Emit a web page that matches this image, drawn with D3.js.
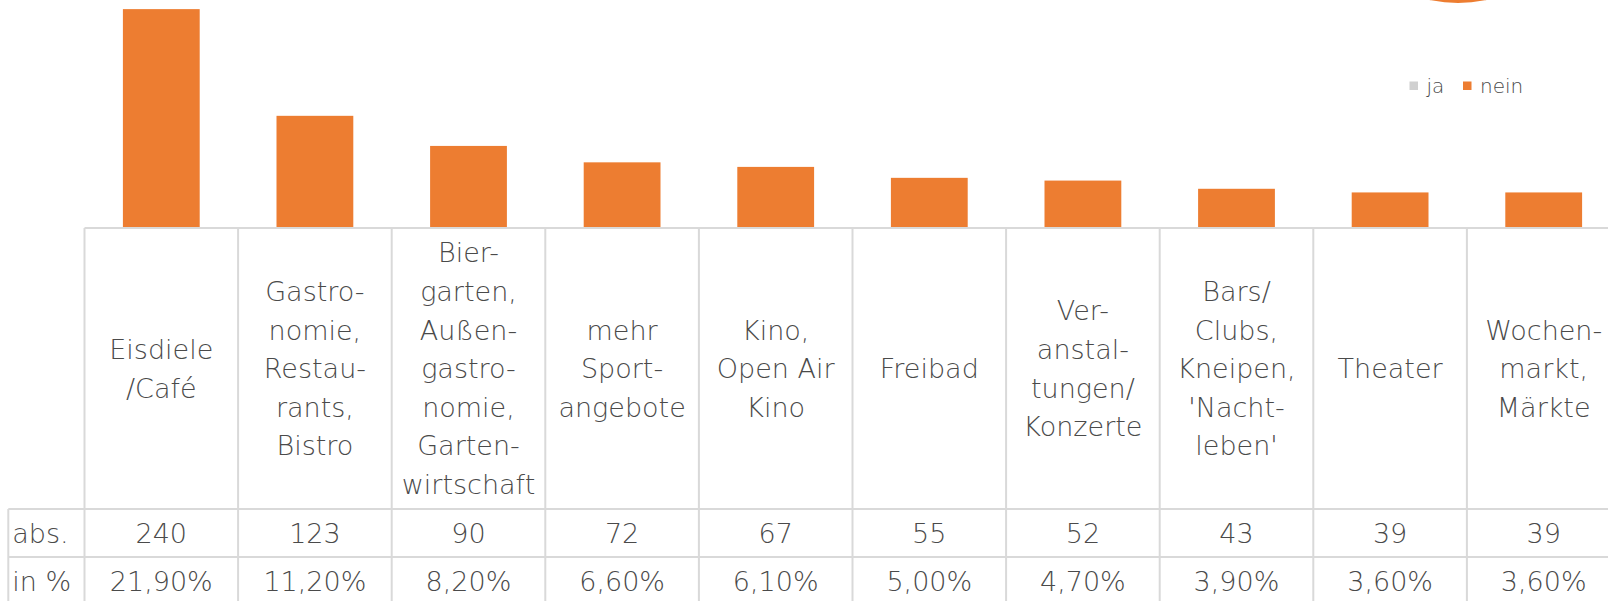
<!DOCTYPE html>
<html><head><meta charset="utf-8">
<script src="https://cdn.jsdelivr.net/npm/d3@7"></script>
<style>
html,body{margin:0;padding:0;background:#fff;overflow:hidden}
svg{display:block}
text{font-family:"DejaVu Sans","Open Sans",sans-serif;font-weight:200;fill:#4a4a4a}
</style></head><body>
<svg id="c" width="1608" height="601"></svg>
<script>
const categories = [
  ["Eisdiele","/Café"],
  ["Gastro-","nomie,","Restau-","rants,","Bistro"],
  ["Bier-","garten,","Außen-","gastro-","nomie,","Garten-","wirtschaft"],
  ["mehr","Sport-","angebote"],
  ["Kino,","Open Air","Kino"],
  ["Freibad"],
  ["Ver-","anstal-","tungen/","Konzerte"],
  ["Bars/","Clubs,","Kneipen,","'Nacht-","leben'"],
  ["Theater"],
  ["Wochen-","markt,","Märkte"]
];
const absValues = [240,123,90,72,67,55,52,43,39,39];
const pctLabels = ["21,90%","11,20%","8,20%","6,60%","6,10%","5,00%","4,70%","3,90%","3,60%","3,60%"];
const rowLabels = ["abs.","in %"];
const legendItems = [{name:"ja",color:"#d0d0d0"},{name:"nein",color:"#ed7d31"}];

const svg = d3.select("#c");
const W = 1608, H = 601;
const tableTop = 228, headerBottom = 509, row2Top = 557, rowH = 48;
const labelLeft = 8.3, plotLeft = 84.5, band = 153.6;
const keys = categories.map((c,i)=>"c"+i);

const x = d3.scaleBand().domain(keys).range([plotLeft, plotLeft + band*keys.length]).paddingInner(0).paddingOuter(0);
const y = d3.scaleLinear().domain([0,250]).range([tableTop, 0]);

// partial shape at top right
svg.append("circle").attr("cx",1458).attr("cy",-134.5).attr("r",137.5).attr("fill","#ed7d31");

// bars
const bw = x.bandwidth()*0.5;
svg.append("g").selectAll("rect").data(absValues).join("rect")
  .attr("x",(d,i)=>x(keys[i]) + (x.bandwidth()-bw)/2)
  .attr("y",d=>y(d))
  .attr("width",bw)
  .attr("height",d=>y(0)-y(d))
  .attr("fill","#ed7d31");

// table grid
const grid = svg.append("g").attr("stroke","#d9d9d9").attr("stroke-width",2).attr("fill","none");
const right = x.range()[1];
grid.append("line").attr("x1",plotLeft).attr("x2",right).attr("y1",tableTop).attr("y2",tableTop);
grid.append("line").attr("x1",labelLeft).attr("x2",right).attr("y1",headerBottom).attr("y2",headerBottom);
grid.append("line").attr("x1",labelLeft).attr("x2",right).attr("y1",row2Top).attr("y2",row2Top);
grid.append("line").attr("x1",labelLeft).attr("x2",labelLeft).attr("y1",headerBottom).attr("y2",H+10);
keys.concat(["end"]).forEach((k,i)=>{
  const xx = i<keys.length ? x(k) : right;
  grid.append("line").attr("x1",xx).attr("x2",xx).attr("y1",tableTop).attr("y2",H+10);
});

// header labels
const fs = 27, lh = 38.6;
const hdr = svg.append("g").attr("font-size",fs).attr("text-anchor","middle");
categories.forEach((lines,i)=>{
  const cx = x(keys[i]) + x.bandwidth()/2;
  const mid = (tableTop+headerBottom)/2;
  const firstBase = mid - (lines.length-1)*lh/2 + fs*0.36;
  const t = hdr.append("text").attr("x",cx).attr("y",firstBase);
  lines.forEach((ln,j)=>{
    t.append("tspan").attr("x",cx).attr("y",firstBase + j*lh).text(ln);
  });
});

// rows
const rows = svg.append("g").attr("font-size",fs);
[absValues.map(String), pctLabels].forEach((vals,r)=>{
  const base = headerBottom + r*rowH + rowH/2 + fs*0.36;
  rows.append("text").attr("x",labelLeft+4).attr("y",base).text(rowLabels[r]);
  vals.forEach((v,i)=>{
    rows.append("text").attr("x",x(keys[i])+x.bandwidth()/2).attr("y",base).attr("text-anchor","middle").text(v);
  });
});

// legend
const lg = svg.append("g").attr("font-size",20);
const lx = [1409.5, 1463];
legendItems.forEach((it,i)=>{
  lg.append("rect").attr("x",lx[i]).attr("y",81.5).attr("width",8.5).attr("height",8.5).attr("fill",it.color);
  lg.append("text").attr("x",lx[i]+17).attr("y",92.5).text(it.name);
});
</script>
</body></html>
